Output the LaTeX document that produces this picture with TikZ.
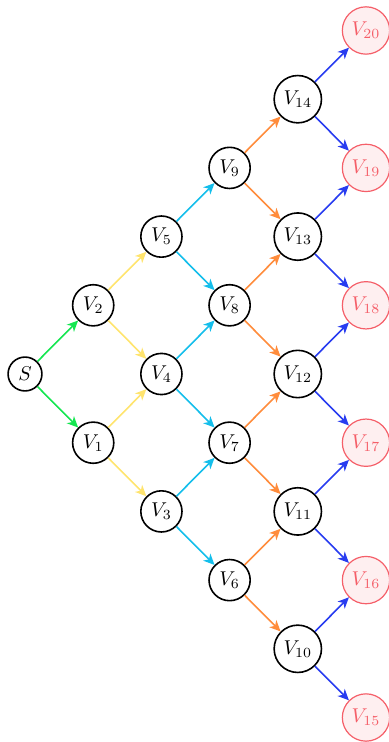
\documentclass[tikz,border=0pt]{standalone}
\usetikzlibrary{arrows.meta}
\definecolor{cgreen}{RGB}{20,230,80}
\definecolor{cyellow}{RGB}{255,228,110}
\definecolor{ccyan}{RGB}{20,190,235}
\definecolor{corange}{RGB}{255,140,60}
\definecolor{cblue}{RGB}{40,60,240}
\definecolor{cred}{RGB}{245,95,105}
\begin{document}
\begin{tikzpicture}[x=0.5pt,y=-0.5pt,
  vtx/.style={circle,draw,line width=0.8pt,inner sep=2.6pt},
  sink/.style={circle,draw=cred,fill=cred!10,text=cred,line width=0.6pt,inner sep=2.6pt},
  edge/.style={line width=0.8pt,-{Stealth[length=5.5pt,width=5pt,inset=1.6pt]}}]
\useasboundingbox (0,0) rectangle (388,742);
\def\dx{68.2}\def\dy{68.7}
\node[vtx] (S) at (25,374) {$S$};
\node[vtx] (V2) at (25+\dx,374-\dy) {$V_2$};
\node[vtx] (V1) at (25+\dx,374+\dy) {$V_1$};
\node[vtx] (V5) at (25+2*\dx,374-2*\dy) {$V_5$};
\node[vtx] (V4) at (25+2*\dx,374) {$V_4$};
\node[vtx] (V3) at (25+2*\dx,374+2*\dy) {$V_3$};
\node[vtx] (V9) at (25+3*\dx,374-3*\dy) {$V_9$};
\node[vtx] (V8) at (25+3*\dx,374-\dy) {$V_8$};
\node[vtx] (V7) at (25+3*\dx,374+\dy) {$V_7$};
\node[vtx] (V6) at (25+3*\dx,374+3*\dy) {$V_6$};
\node[vtx] (V14) at (25+4*\dx,374-4*\dy) {$V_{14}$};
\node[vtx] (V13) at (25+4*\dx,374-2*\dy) {$V_{13}$};
\node[vtx] (V12) at (25+4*\dx,374) {$V_{12}$};
\node[vtx] (V11) at (25+4*\dx,374+2*\dy) {$V_{11}$};
\node[vtx] (V10) at (25+4*\dx,374+4*\dy) {$V_{10}$};
\node[sink] (V20) at (25+5*\dx,374-5*\dy) {$V_{20}$};
\node[sink] (V19) at (25+5*\dx,374-3*\dy) {$V_{19}$};
\node[sink] (V18) at (25+5*\dx,374-\dy) {$V_{18}$};
\node[sink] (V17) at (25+5*\dx,374+\dy) {$V_{17}$};
\node[sink] (V16) at (25+5*\dx,374+3*\dy) {$V_{16}$};
\node[sink] (V15) at (25+5*\dx,374+5*\dy) {$V_{15}$};
\draw[edge,cgreen] (S) -- (V2);
\draw[edge,cgreen] (S) -- (V1);
\foreach \a/\b in {V2/V5,V2/V4,V1/V4,V1/V3}
  \draw[edge,cyellow] (\a) -- (\b);
\foreach \a/\b in {V5/V9,V5/V8,V4/V8,V4/V7,V3/V7,V3/V6}
  \draw[edge,ccyan] (\a) -- (\b);
\foreach \a/\b in {V9/V14,V9/V13,V8/V13,V8/V12,V7/V12,V7/V11,V6/V11,V6/V10}
  \draw[edge,corange] (\a) -- (\b);
\foreach \a/\b in {V14/V20,V14/V19,V13/V19,V13/V18,V12/V18,V12/V17,V11/V17,V11/V16,V10/V16,V10/V15}
  \draw[edge,cblue] (\a) -- (\b);
\end{tikzpicture}
\end{document}
